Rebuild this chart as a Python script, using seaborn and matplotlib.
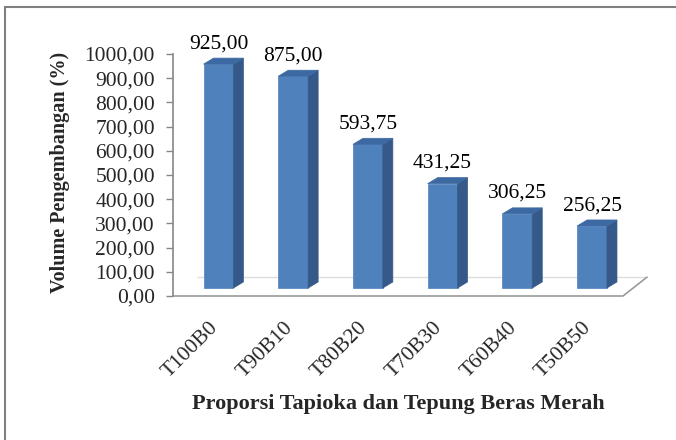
import numpy as np
import pandas as pd
import matplotlib
matplotlib.use("Agg")
import matplotlib.pyplot as plt
import matplotlib.transforms as mtrans
from matplotlib.patches import Polygon, Rectangle
import seaborn as sns

# data
categories = ["T100B0", "T90B10", "T80B20", "T70B30", "T60B40", "T50B50"]
volume = [925.00, 875.00, 593.75, 431.25, 306.25, 256.25]

df = pd.DataFrame({"perlakuan": categories, "volume": volume})

sns.set_style("white")
plt.rcParams["font.family"] = ["Liberation Serif", "DejaVu Serif"]

fig = plt.figure(figsize=(6.76, 4.40), dpi=100)
ax = fig.add_axes([173 / 676, 1 - 296 / 440, 474 / 676, 242 / 440])

front = "#4F81BD"
side = "#355A89"
top = "#3D69A2"

sns.barplot(data=df, x="perlakuan", y="volume", color=front, width=0.4,
            saturation=1, ax=ax, zorder=3, edgecolor=front, linewidth=0.5)

ax.set_xlim(-0.609, 5.736)
ax.set_ylim(0, 1000)

# efek 3D ala Excel
off = 33     # bar berdiri di atas lantai
dx = 0.134   # kedalaman bar (x)
dy = 25      # kedalaman bar (y)

# lantai
fl = [(-0.609, 0), (5.415, 0), (5.736, 78), (-0.29, 78)]
ax.add_patch(Polygon(fl, closed=True, facecolor="white", edgecolor="none",
                     zorder=1, clip_on=False))
ax.plot([-0.609, 5.415, 5.736], [0, 0, 78], color="#9a9a9a", lw=1.2,
        clip_on=False, zorder=2)
ax.plot([-0.29, 5.736], [78, 78], color="#dedede", lw=1, clip_on=False, zorder=1)

for p, v in zip(ax.patches, volume):
    p.set_y(off)
    x0, w, h = p.get_x(), p.get_width(), p.get_height()
    b = off
    ax.add_patch(Polygon([(x0 + w, b), (x0 + w + dx, b + dy),
                          (x0 + w + dx, b + h + dy), (x0 + w, b + h)],
                         facecolor=side, edgecolor=side, lw=0.5, zorder=3,
                         clip_on=False))
    ax.add_patch(Polygon([(x0, b + h), (x0 + dx, b + h + dy),
                          (x0 + w + dx, b + h + dy), (x0 + w, b + h)],
                         facecolor=top, edgecolor=top, lw=0.5, zorder=3,
                         clip_on=False))
    ax.text(x0 + w / 2, b + h + dy + 20, f"{v:.2f}".replace(".", ","),
            ha="center", va="bottom", fontsize=15.5, color="black")

# sumbu
yt = np.arange(0, 1001, 100)
ax.set_yticks(yt)
ax.set_yticklabels([f"{t:.2f}".replace(".", ",") for t in yt])
ax.tick_params(axis="y", left=True, length=5, width=1, color="#868686",
               pad=8, labelsize=15.5)
ax.tick_params(axis="x", bottom=False, length=0, pad=16, labelsize=15.5)
geser = mtrans.ScaledTranslation(-0.10, 0, fig.dpi_scale_trans)
for lab in ax.get_xticklabels():
    lab.set_rotation(45)
    lab.set_ha("right")
    lab.set_rotation_mode("anchor")
    lab.set_transform(lab.get_transform() + geser)

for s in ["top", "right", "bottom"]:
    ax.spines[s].set_visible(False)
ax.spines["left"].set_color("#868686")
ax.spines["left"].set_linewidth(1.2)

ax.set_ylabel("Volume Pengembangan (%)", fontsize=14.5, fontweight="bold")
ax.yaxis.set_label_coords(-0.218, 0.512)
ax.set_xlabel("Proporsi Tapioka dan Tepung Beras Merah", fontsize=16,
              fontweight="bold")
ax.xaxis.set_label_coords(0.475, -0.405)

# bingkai chart
fig.patches.append(Rectangle((5 / 676, -0.5), 2, 1 - 7 / 440 + 0.5,
                             transform=fig.transFigure, fill=False,
                             edgecolor="#7f7f7f", lw=1.5))

plt.savefig("out.png", dpi=100)
plt.close()
